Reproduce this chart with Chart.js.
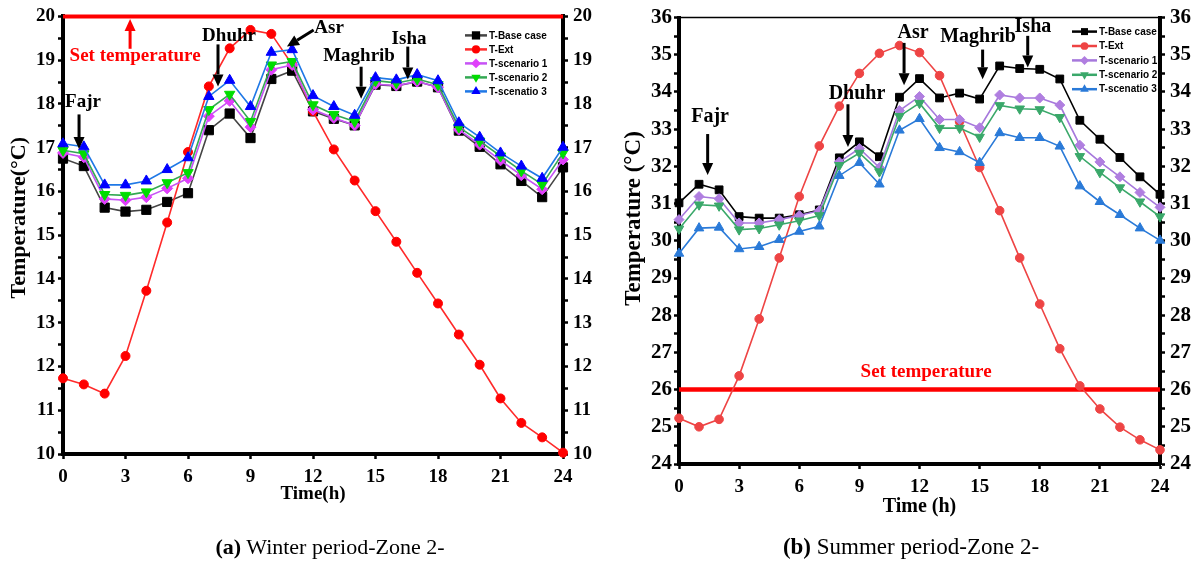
<!DOCTYPE html>
<html lang="en">
  <head>
    <meta charset="UTF-8" />
    <title>Zone 2 temperatures</title>
    <script src="https://cdn.jsdelivr.net/npm/chart.js@4.4.0/dist/chart.umd.min.js"></script>
    <style>
      body {
        margin: 0;
        background: #fff;
        width: 1194px;
        height: 563px;
        overflow: hidden;
        position: relative;
        font-family: "Liberation Serif", serif;
      }
      #wrap_winter { position: absolute; left: 0; top: 0; width: 600px; height: 563px; }
      #wrap_summer { position: absolute; left: 600px; top: 0; width: 594px; height: 563px; }
      .caption {
        position: absolute;
        top: 534px;
        font-size: 22px;
        line-height: 26px;
        white-space: nowrap;
        transform: translateX(-50%);
        color: #000;
      }
    </style>
  </head>
  <body>
    <div id="wrap_winter"><canvas id="winter" width="600" height="563"></canvas></div>
    <div id="wrap_summer"><canvas id="summer" width="594" height="563"></canvas></div>
    <div class="caption" style="left: 330px"><b>(a)</b> Winter period-Zone 2-</div>
    <div class="caption" style="left: 911px; font-size: 23px"><b>(b)</b> Summer period-Zone 2-</div>
    <script>
      // hours of the day
      const hours = [0, 1, 2, 3, 4, 5, 6, 7, 8, 9, 10, 11, 12, 13, 14, 15, 16, 17, 18, 19, 20, 21, 22, 23, 24];
      const seriesNames = ["T-Base case", "T-Ext", "T-scenario 1", "T-scenario 2", "T-scenatio 3"];

      // winter, zone 2
      const winterBase = [16.75, 16.58, 15.63, 15.54, 15.58, 15.76, 15.96, 17.40, 17.78, 17.22, 18.57, 18.76, 17.83, 17.66, 17.51, 18.44, 18.41, 18.51, 18.38, 17.39, 17.02, 16.62, 16.24, 15.87, 16.55];
      const winterExt = [11.73, 11.59, 11.38, 12.24, 13.73, 15.29, 16.90, 18.40, 19.27, 19.69, 19.60, 18.90, 17.83, 16.96, 16.25, 15.55, 14.85, 14.14, 13.44, 12.73, 12.04, 11.27, 10.71, 10.38, 10.03];
      const winterS1 = [16.88, 16.78, 15.83, 15.80, 15.87, 16.07, 16.30, 17.72, 18.07, 17.47, 18.78, 18.89, 17.87, 17.68, 17.51, 18.45, 18.42, 18.51, 18.38, 17.41, 17.07, 16.71, 16.37, 16.05, 16.73];
      const winterS2 = [16.94, 16.86, 15.93, 15.91, 15.99, 16.20, 16.43, 17.87, 18.22, 17.60, 18.89, 18.97, 17.98, 17.76, 17.60, 18.53, 18.48, 18.57, 18.44, 17.47, 17.15, 16.81, 16.47, 16.16, 16.88];
      const winterS3 = [17.09, 17.02, 16.15, 16.15, 16.24, 16.50, 16.77, 18.17, 18.54, 17.94, 19.18, 19.24, 18.19, 17.94, 17.74, 18.60, 18.55, 18.67, 18.53, 17.57, 17.24, 16.88, 16.58, 16.30, 17.01];
      const winterSet = 20;

      // summer, zone 2
      const summerBase = [31.02, 31.52, 31.37, 30.65, 30.61, 30.61, 30.70, 30.83, 32.23, 32.66, 32.26, 33.86, 34.36, 33.84, 33.97, 33.81, 34.70, 34.63, 34.61, 34.35, 33.24, 32.73, 32.24, 31.72, 31.25];
      const summerExt = [25.23, 25.00, 25.20, 26.37, 27.90, 29.54, 31.19, 32.55, 33.62, 34.50, 35.04, 35.25, 35.06, 34.44, 33.20, 31.97, 30.81, 29.54, 28.30, 27.10, 26.10, 25.48, 24.99, 24.65, 24.38];
      const summerS1 = [30.57, 31.19, 31.13, 30.48, 30.48, 30.57, 30.68, 30.81, 32.12, 32.48, 31.97, 33.50, 33.88, 33.26, 33.26, 33.04, 33.92, 33.84, 33.84, 33.65, 32.57, 32.12, 31.72, 31.30, 30.90];
      const summerS2 = [30.32, 30.97, 30.94, 30.30, 30.33, 30.43, 30.54, 30.68, 32.03, 32.36, 31.86, 33.35, 33.70, 33.03, 33.03, 32.79, 33.64, 33.55, 33.53, 33.32, 32.27, 31.84, 31.43, 31.05, 30.65];
      const summerS3 = [29.66, 30.34, 30.36, 29.78, 29.84, 30.03, 30.25, 30.39, 31.75, 32.10, 31.52, 32.97, 33.28, 32.50, 32.39, 32.10, 32.90, 32.77, 32.77, 32.54, 31.47, 31.05, 30.70, 30.34, 30.01];
      const summerSet = 26;

      // prayer-time notes (hour, temperature)
      const winterNotes = [
        { text: "Fajr", x: 0.96, y: 18.04, from: [0.77, 17.76], to: [0.77, 16.97] },
        { text: "Dhuhr", x: 7.97, y: 19.56, from: [7.44, 19.36], to: [7.44, 18.4] },
        { text: "Asr", x: 12.77, y: 19.74, from: [12.03, 19.69], to: [10.75, 19.31] },
        { text: "Maghrib", x: 14.21, y: 19.1, from: [14.31, 18.85], to: [14.31, 18.12] },
        { text: "Isha", x: 16.61, y: 19.49, from: [16.55, 19.31], to: [16.55, 18.56] },
        { text: "Set temperature", x: 3.46, y: 19.1, from: [3.22, 19.26], to: [3.22, 19.94], red: true },
      ];
      const summerNotes = [
        { text: "Fajr", x: 1.55, y: 33.32, from: [1.43, 32.87], to: [1.43, 31.77] },
        { text: "Dhuhr", x: 8.88, y: 33.94, from: [8.43, 33.67], to: [8.43, 32.52] },
        { text: "Asr", x: 11.68, y: 35.59, from: [11.23, 35.32], to: [11.23, 34.18] },
        { text: "Maghrib", x: 14.92, y: 35.48, from: [15.15, 35.14], to: [15.15, 34.34] },
        { text: "Isha", x: 17.66, y: 35.75, from: [17.4, 35.51], to: [17.4, 34.66] },
        { text: "Set temperature", x: 12.33, y: 26.46, red: true },
      ];

      const winterLook = [
        { point: "#000000", line: "#444444", style: "rect", r: 6.5 },
        { point: "#ff0000", line: "#ff2a2a", style: "circle", r: 4.5 },
        { point: "#e040fb", line: "#c653f5", style: "rectRot", r: 5.5 },
        { point: "#00dd00", line: "#33a853", style: "triangle", r: 6, rot: 180 },
        { point: "#0000ff", line: "#1f78e6", style: "triangle", r: 6 },
      ];
      const summerLook = [
        { point: "#000000", line: "#000000", style: "rect", r: 5.5 },
        { point: "#ee4444", line: "#ee4444", style: "circle", r: 4.3 },
        { point: "#b07ee0", line: "#a678dc", style: "rectRot", r: 5 },
        { point: "#3aa86a", line: "#3aa86a", style: "triangle", r: 5.5, rot: 180 },
        { point: "#2a7ad8", line: "#2a7ad8", style: "triangle", r: 5.5 },
      ];

      const serif = "Liberation Serif";

      function drawMarker(ctx, style, x, y, r, rot) {
        ctx.beginPath();
        if (style === "rect") {
          const s = r * Math.SQRT1_2;
          ctx.rect(x - s, y - s, 2 * s, 2 * s);
        } else if (style === "rectRot") {
          ctx.moveTo(x, y - r);
          ctx.lineTo(x + r, y);
          ctx.lineTo(x, y + r);
          ctx.lineTo(x - r, y);
          ctx.closePath();
        } else if (style === "triangle") {
          const d = rot ? -1 : 1;
          ctx.moveTo(x, y - d * r);
          ctx.lineTo(x + r * 0.866, y + (d * r) / 2);
          ctx.lineTo(x - r * 0.866, y + (d * r) / 2);
          ctx.closePath();
        } else {
          ctx.arc(x, y, r, 0, Math.PI * 2);
        }
        ctx.fill();
      }

      function arrow(ctx, x1, y1, x2, y2) {
        const a = Math.atan2(y2 - y1, x2 - x1);
        const len = 12, half = 5.5;
        const bx = x2 - Math.cos(a) * len, by = y2 - Math.sin(a) * len;
        ctx.lineWidth = 3;
        ctx.beginPath();
        ctx.moveTo(x1, y1);
        ctx.lineTo(bx, by);
        ctx.stroke();
        ctx.beginPath();
        ctx.moveTo(x2, y2);
        ctx.lineTo(bx + Math.sin(a) * half, by - Math.cos(a) * half);
        ctx.lineTo(bx - Math.sin(a) * half, by + Math.cos(a) * half);
        ctx.closePath();
        ctx.fill();
      }

      const notePlugin = {
        id: "notes",
        afterDatasetsDraw(chart, args, opts) {
          const { ctx, chartArea } = chart;
          const x = chart.scales.x, y = chart.scales.y;
          ctx.save();
          opts.items.forEach((n) => {
            const c = n.red ? "#ff0000" : "#000000";
            ctx.fillStyle = c;
            ctx.strokeStyle = c;
            ctx.font = "bold " + (n.red ? opts.setSize : opts.size) + "px '" + serif + "'";
            ctx.textAlign = "center";
            ctx.textBaseline = "middle";
            ctx.fillText(n.text, x.getPixelForValue(n.x), y.getPixelForValue(n.y));
            if (n.from) {
              arrow(ctx, x.getPixelForValue(n.from[0]), y.getPixelForValue(n.from[1]),
                x.getPixelForValue(n.to[0]), y.getPixelForValue(n.to[1]));
            }
          });
          // y axis title, a bit above the middle as in the source figure
          const t = opts.yTitle;
          ctx.translate(t.x, chartArea.top + (chartArea.bottom - chartArea.top) * t.frac);
          ctx.rotate(-Math.PI / 2);
          ctx.fillStyle = "#000";
          ctx.font = "bold " + t.size + "px '" + serif + "'";
          ctx.textAlign = "center";
          ctx.textBaseline = "middle";
          ctx.fillText(t.text, 0, 0);
          ctx.restore();
        },
      };

      const keyPlugin = {
        id: "keyBox",
        afterDraw(chart, args, opts) {
          const { ctx, chartArea } = chart;
          ctx.save();
          if (opts.topLine) {
            ctx.strokeStyle = "#000";
            ctx.lineWidth = 1.5;
            ctx.beginPath();
            ctx.moveTo(chartArea.left, chartArea.top);
            ctx.lineTo(chartArea.right, chartArea.top);
            ctx.stroke();
          }
          const x0 = chartArea.right + opts.dx;
          opts.look.forEach((lk, i) => {
            const yy = chartArea.top + opts.dy + i * opts.gap;
            ctx.strokeStyle = lk.line;
            ctx.lineWidth = 2.5;
            ctx.beginPath();
            ctx.moveTo(x0, yy);
            ctx.lineTo(x0 + opts.lineLen, yy);
            ctx.stroke();
            ctx.fillStyle = lk.point;
            drawMarker(ctx, lk.style, x0 + opts.lineLen / 2, yy, lk.r * 0.9, lk.rot);
            ctx.fillStyle = "#000";
            ctx.font = "bold 10px 'Liberation Sans'";
            ctx.textAlign = "left";
            ctx.textBaseline = "middle";
            ctx.fillText(seriesNames[i], x0 + opts.lineLen + 2, yy + 0.5);
          });
          ctx.restore();
        },
      };

      function lineSet(values, look) {
        return values.map((vals, i) => ({
          label: seriesNames[i],
          data: vals.map((v, k) => ({ x: hours[k], y: v })),
          borderColor: look[i].line,
          backgroundColor: look[i].point,
          pointBackgroundColor: look[i].point,
          pointBorderColor: look[i].point,
          pointStyle: look[i].style,
          pointRadius: look[i].r,
          pointRotation: look[i].rot || 0,
          pointBorderWidth: 1,
          borderWidth: 1.6,
          order: 5 - i,
          clip: false,
        }));
      }

      function setLine(value, width) {
        return {
          label: "Set temperature",
          data: [{ x: hours[0], y: value }, { x: hours[hours.length - 1], y: value }],
          borderColor: "#ff0000",
          borderWidth: width,
          pointRadius: 0,
          order: 10,
          clip: false,
        };
      }

      function yAxis(pos, min, max, o) {
        return {
          type: "linear",
          position: pos,
          min: min,
          max: max,
          afterFit: (s) => { s.width = o.width; },
          border: { display: true, color: "#000", width: 4 },
          grid: { display: true, drawOnChartArea: false, drawTicks: true, tickLength: 5, tickWidth: 2.5, tickColor: "#000" },
          ticks: {
            stepSize: 0.5,
            autoSkip: false,
            padding: o.pad,
            color: "#000",
            font: { family: serif, weight: "bold", size: o.tickSize },
            callback: (v) => (Number.isInteger(v) ? String(v) : ""),
          },
          title: { display: false },
        };
      }

      function xAxis(o) {
        return {
          type: "linear",
          position: "bottom",
          min: 0,
          max: 24,
          afterFit: (s) => { s.height = o.height; },
          border: { display: true, color: "#000", width: 4 },
          grid: { display: true, drawOnChartArea: false, drawTicks: true, tickLength: 5, tickWidth: 2.5, tickColor: "#000" },
          ticks: {
            stepSize: 3,
            autoSkip: false,
            maxRotation: 0,
            padding: o.pad,
            color: "#000",
            font: { family: serif, weight: "bold", size: o.tickSize },
          },
          title: { display: true, text: o.title, color: "#000", font: { family: serif, weight: "bold", size: o.titleSize, lineHeight: 1.2 }, padding: { top: 0, bottom: 0 } },
        };
      }

      new Chart(document.getElementById("winter"), {
        type: "line",
        data: {
          datasets: lineSet([winterBase, winterExt, winterS1, winterS2, winterS3], winterLook).concat([setLine(winterSet, 4)]),
        },
        options: {
          responsive: false,
          animation: false,
          layout: { padding: { top: 15, bottom: 58, left: 0, right: 0 } },
          scales: {
            x: xAxis({ height: 51, pad: 7, tickSize: 19, title: "Time(h)", titleSize: 19 }),
            y: yAxis("left", 10, 20, { width: 63, pad: 3, tickSize: 19 }),
            y2: yAxis("right", 10, 20, { width: 37, pad: 5, tickSize: 19 }),
          },
          plugins: {
            legend: { display: false },
            tooltip: { enabled: false },
            notes: { items: winterNotes, size: 19, setSize: 19, yTitle: { text: "Temperature(°C)", size: 22, x: 19, frac: 0.46 } },
            keyBox: { look: winterLook, dx: -98, dy: 19, gap: 14, lineLen: 22, topLine: false },
          },
        },
        plugins: [notePlugin, keyPlugin],
      });

      new Chart(document.getElementById("summer"), {
        type: "line",
        data: {
          datasets: lineSet([summerBase, summerExt, summerS1, summerS2, summerS3], summerLook).concat([setLine(summerSet, 4.5)]),
        },
        options: {
          responsive: false,
          animation: false,
          layout: { padding: { top: 15, bottom: 44, left: 0, right: 0 } },
          scales: {
            x: xAxis({ height: 55, pad: 7, tickSize: 19, title: "Time (h)", titleSize: 20 }),
            y: yAxis("left", 24, 36, { width: 79, pad: 2, tickSize: 21 }),
            y2: yAxis("right", 24, 36, { width: 34, pad: 5, tickSize: 21 }),
          },
          plugins: {
            legend: { display: false },
            tooltip: { enabled: false },
            notes: { items: summerNotes, size: 20, setSize: 19, yTitle: { text: "Temperature (°C)", size: 23, x: 34, frac: 0.45 } },
            keyBox: { look: summerLook, dx: -88, dy: 14, gap: 14.4, lineLen: 25, topLine: true },
          },
        },
        plugins: [notePlugin, keyPlugin],
      });
    </script>
  </body>
</html>
